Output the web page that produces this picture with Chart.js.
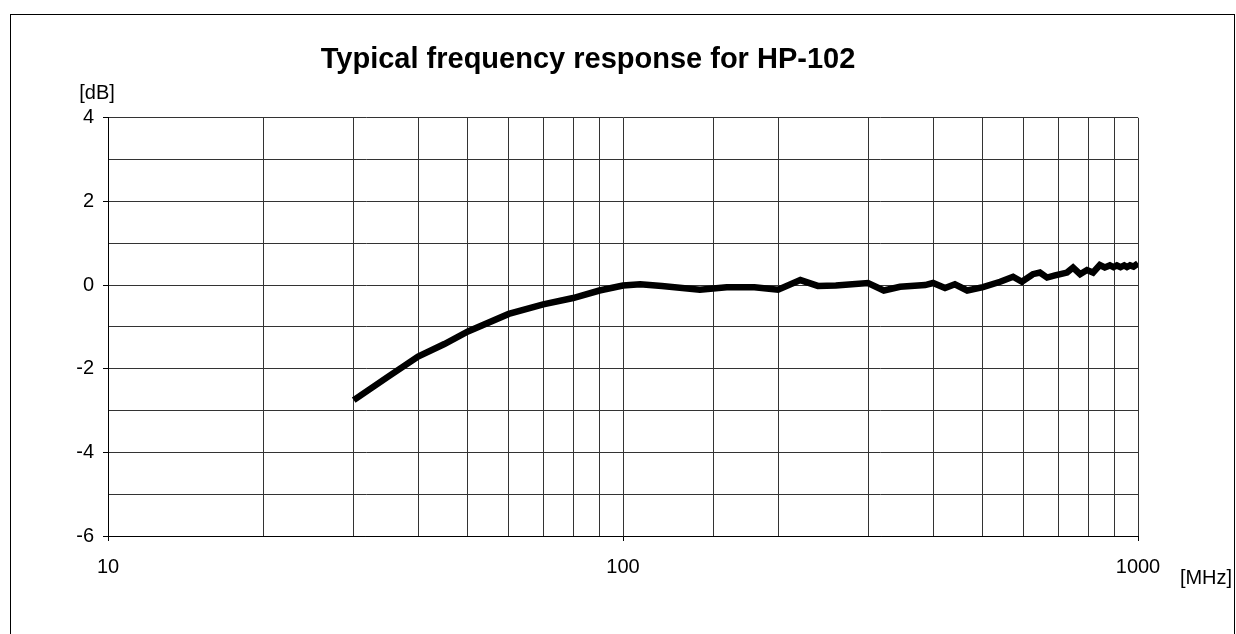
<!DOCTYPE html>
<html>
<head>
<meta charset="utf-8">
<script src="https://cdn.jsdelivr.net/npm/chart.js@4"></script>
<style>
  html, body { margin:0; padding:0; background:#fff; }
  #wrap { width:1236px; height:634px; position:relative; }
</style>
</head>
<body>
<div id="wrap"><canvas id="chart" width="1236" height="634"></canvas></div>
<script>
/* Frequency response HP-102 (log x axis) */
const freqMHz = [30, 35, 40, 45, 50, 60, 70, 80, 90, 100, 108, 119, 141, 159, 180, 200,
  221, 239, 259, 299, 321, 345, 386, 400, 422, 441, 466, 500, 540, 572, 595, 625, 645,
  666, 690, 728, 748, 772, 796, 818, 843, 862, 882, 896, 910, 925, 940, 952, 965, 980, 1000];
const gainDb = [-2.75, -2.19, -1.71, -1.41, -1.11, -0.69, -0.46, -0.31, -0.13, -0.01, 0.02,
  -0.02, -0.11, -0.05, -0.05, -0.11, 0.12, -0.02, -0.01, 0.05, -0.13, -0.04, 0.0, 0.05,
  -0.07, 0.02, -0.13, -0.05, 0.08, 0.2, 0.08, 0.26, 0.3, 0.18, 0.23, 0.3, 0.42, 0.26, 0.36,
  0.3, 0.48, 0.42, 0.47, 0.43, 0.47, 0.43, 0.47, 0.43, 0.47, 0.44, 0.52];
const xTickLabels = [10, 100, 1000];
const yTickLabels = [4, 2, 0, -2, -4, -6];

const FONT = "Arial, 'Liberation Sans', sans-serif";

// borde exterior + unidades
const extras = {
  id: "extras",
  afterDraw(chart){
    const c = chart.ctx;
    c.save();
    c.strokeStyle = "#000";
    c.lineWidth = 1;
    c.strokeRect(10.5, 14.5, 1224, 640);
    c.fillStyle = "#000";
    c.font = "20px " + FONT;
    c.textAlign = "center";
    c.textBaseline = "middle";
    c.fillText("[dB]", 97, 93);
    c.fillText("[MHz]", 1206, 578);
    c.restore();
  }
};

new Chart(document.getElementById("chart").getContext("2d"), {
  type: "line",
  data: {
    datasets: [{
      data: freqMHz.map((f, i) => ({x: f, y: gainDb[i]})),
      borderColor: "#000",
      borderWidth: 6.5,
      pointRadius: 0,
      tension: 0,
      fill: false
    }]
  },
  options: {
    responsive: false,
    animation: false,
    layout: { padding: { left: 38, right: 98, top: 0, bottom: 0 } },
    plugins: {
      legend: { display: false },
      tooltip: { enabled: false },
      title: {
        display: true,
        text: "Typical frequency response for HP-102",
        color: "#000",
        font: { family: FONT, size: 29, weight: "bold" },
        padding: { top: 43, bottom: 40 }
      }
    },
    scales: {
      x: {
        type: "logarithmic",
        min: 10,
        max: 1000,
        afterFit: (s) => { s.height = 98; },
        border: { color: "#000", width: 1 },
        grid: {
          color: "#333",
          lineWidth: 1,
          tickLength: 5,
          tickColor: (ctx) => xTickLabels.includes(ctx.tick && ctx.tick.value) ? "#000" : "rgba(0,0,0,0)"
        },
        ticks: {
          autoSkip: false,
          maxRotation: 0,
          padding: 14,
          color: "#000",
          font: { family: FONT, size: 20 },
          callback: (v) => xTickLabels.includes(v) ? String(v) : ""
        }
      },
      y: {
        min: -6,
        max: 4,
        afterFit: (s) => { s.width = 70; },
        border: { color: "#000", width: 1 },
        grid: {
          color: "#333",
          lineWidth: 1,
          tickLength: 5,
          tickColor: (ctx) => yTickLabels.includes(ctx.tick && ctx.tick.value) ? "#000" : "rgba(0,0,0,0)"
        },
        ticks: {
          stepSize: 1,
          padding: 9,
          color: "#000",
          font: { family: FONT, size: 20 },
          callback: (v) => yTickLabels.includes(v) ? String(v) : ""
        }
      }
    }
  },
  plugins: [extras]
});
</script>
</body>
</html>
